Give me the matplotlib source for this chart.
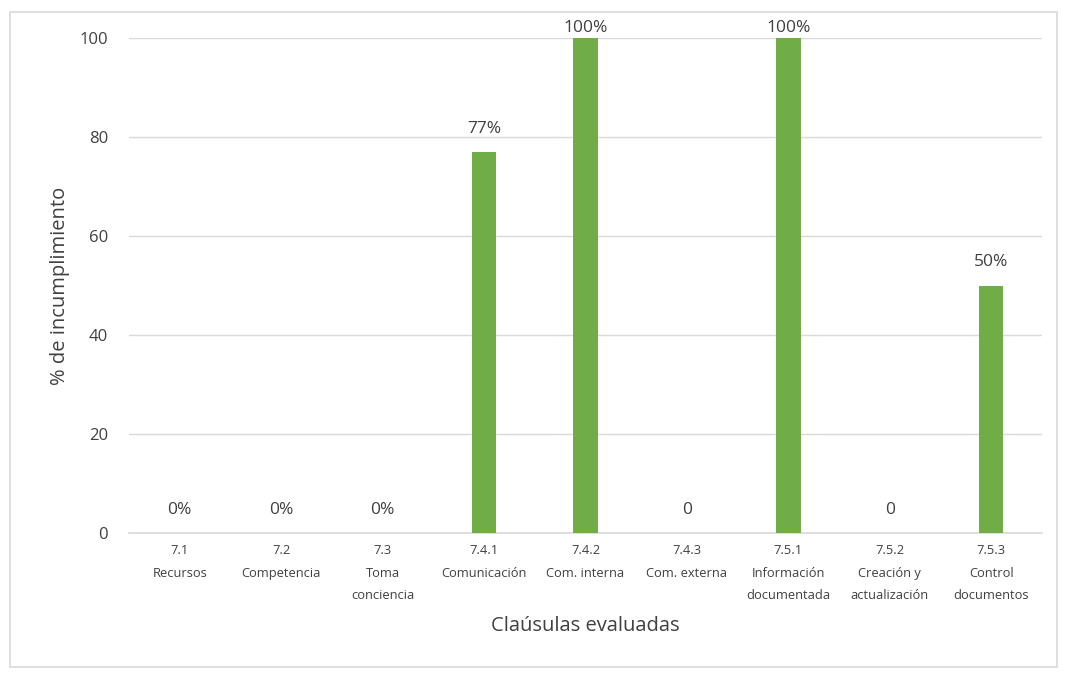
import matplotlib
matplotlib.use("Agg")
import matplotlib.pyplot as plt
from matplotlib.patches import Rectangle

categories = ["7.1\nRecursos", "7.2\nCompetencia", "7.3\nToma\nconciencia",
              "7.4.1\nComunicación", "7.4.2\nCom. interna", "7.4.3\nCom. externa",
              "7.5.1\nInformación\ndocumentada", "7.5.2\nCreación y\nactualización",
              "7.5.3\nControl\ndocumentos"]
values = [0, 0, 0, 77, 100, 0, 100, 0, 50]
value_labels = ["0%", "0%", "0%", "77%", "100%", "0", "100%", "0", "50%"]
yticks = [0, 20, 40, 60, 80, 100]

plt.rcParams['font.family'] = ['Open Sans', 'DejaVu Sans']
text_color = "#404040"

fig = plt.figure(figsize=(10.67, 6.77), dpi=100)
fig.patches.append(Rectangle((10/1067, 1-667/677), 1047/1067, 655/677,
                             transform=fig.transFigure, fill=False,
                             edgecolor="#D9D9D9", linewidth=1.2))
ax = fig.add_axes([129/1067, 1-533/677, 913/1067, 495/677])

x = list(range(len(categories)))
ax.bar(x, values, width=0.24, color="#70AD47", zorder=3)
ax.set_xlim(-0.5, len(categories)-0.5)
ax.set_ylim(0, 100)
ax.set_yticks(yticks)
ax.set_yticklabels([str(t) for t in yticks], fontsize=12, color=text_color)
ax.set_xticks(x)
ax.set_xticklabels(categories, fontsize=9.3, color=text_color, linespacing=1.95, va="top")
ax.tick_params(axis='both', length=0)
ax.tick_params(axis='x', pad=8)
ax.tick_params(axis='y', pad=15)
ax.grid(axis='y', color="#D9D9D9", linewidth=1, zorder=0)
for s in ["top", "right", "left"]:
    ax.spines[s].set_visible(False)
ax.spines["bottom"].set_color("#D9D9D9")
ax.spines["bottom"].set_linewidth(1.2)

for xi, v, lab in zip(x, values, value_labels):
    off = 10 if v >= 100 else 23
    ax.annotate(lab, (xi, v), xytext=(0, off), textcoords="offset pixels",
                ha="center", va="center", fontsize=12.5, color=text_color,
                annotation_clip=False)

ax.set_ylabel("% de incumplimiento", fontsize=14.5, color=text_color, labelpad=7)
ax.set_xlabel("Claúsulas evaluadas", fontsize=14.5, color=text_color, labelpad=10)

fig.savefig("out.png", dpi=100)
